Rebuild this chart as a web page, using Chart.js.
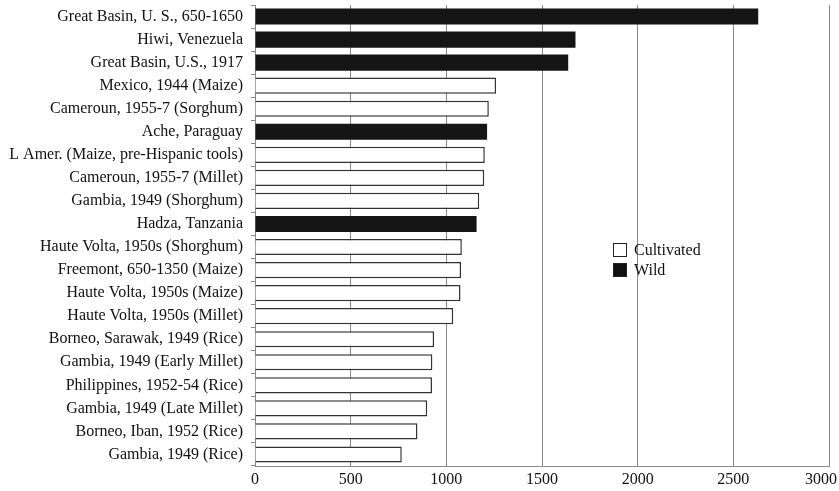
<!DOCTYPE html>
<html>
<head>
<meta charset="utf-8">
<script src="https://cdn.jsdelivr.net/npm/chart.js@4/dist/chart.umd.min.js"></script>
<style>
    html, body { margin: 0; padding: 0; background: #fff; }
    #wrap { position: relative; width: 839px; height: 491px; }
    #legend { position: absolute; left: 613px; top: 240px; font-family: "Liberation Serif", "Times New Roman", serif; font-size: 16px; color: #111; }
    .item { display: flex; align-items: center; height: 20px; }
    .box { width: 12px; height: 12px; border: 1.5px solid #222; margin-right: 7px; }
</style>
</head>
<body>
<div id="wrap">
    <canvas id="chart" width="839" height="491"></canvas>
    <div id="legend">
        <div class="item"><span class="box" style="background:#fff"></span>Cultivated</div>
        <div class="item"><span class="box" style="background:#111"></span>Wild</div>
    </div>
</div>
<script>
// Data
const labels = [
    'Great Basin, U. S., 650-1650',
    'Hiwi, Venezuela',
    'Great Basin, U.S., 1917',
    'Mexico, 1944 (Maize)',
    'Cameroun, 1955-7 (Sorghum)',
    'Ache, Paraguay',
    'L Amer. (Maize, pre-Hispanic tools)',
    'Cameroun, 1955-7 (Millet)',
    'Gambia, 1949 (Shorghum)',
    'Hadza, Tanzania',
    'Haute Volta, 1950s (Shorghum)',
    'Freemont, 650-1350 (Maize)',
    'Haute Volta, 1950s (Maize)',
    'Haute Volta, 1950s (Millet)',
    'Borneo, Sarawak, 1949 (Rice)',
    'Gambia, 1949 (Early Millet)',
    'Philippines, 1952-54 (Rice)',
    'Gambia, 1949 (Late Millet)',
    'Borneo, Iban, 1952 (Rice)',
    'Gambia, 1949 (Rice)'
];
const values = [2630, 1675, 1637, 1260, 1222, 1213, 1201, 1198, 1172, 1158,
    1081, 1077, 1074, 1036, 936, 927, 925, 900, 849, 767];
const kinds = ['W', 'W', 'W', 'C', 'C', 'W', 'C', 'C', 'C', 'W',
    'C', 'C', 'C', 'C', 'C', 'C', 'C', 'C', 'C', 'C'];
const xTicks = [0, 500, 1000, 1500, 2000, 2500, 3000];

const cultivated = values.map((v, i) => kinds[i] === 'C' ? v : null);
const wild = values.map((v, i) => kinds[i] === 'W' ? v : null);

const font = { family: '"Liberation Serif", "Times New Roman", serif', size: 16 };

// keep the last x label inside the canvas, the way the original does
const lastLabelFit = {
    id: 'lastLabelFit',
    beforeDraw(chart) {
        const items = chart.scales.x.getLabelItems(chart.chartArea);
        const last = items[items.length - 1];
        if (last) {
            last.options.textAlign = 'right';
            last.options.translation[0] = chart.chartArea.right + 8;
        }
    }
};

new Chart(document.getElementById('chart'), {
    type: 'bar',
    data: {
        labels: labels,
        datasets: [
            {
                label: 'Cultivated',
                data: cultivated,
                backgroundColor: '#fff',
                borderColor: '#333',
                borderWidth: 1.5,
                grouped: false,
                barPercentage: 0.7,
                categoryPercentage: 1
            },
            {
                label: 'Wild',
                data: wild,
                backgroundColor: '#151515',
                borderColor: '#151515',
                borderWidth: 0,
                grouped: false,
                barPercentage: 0.7,
                categoryPercentage: 1
            }
        ]
    },
    options: {
        indexAxis: 'y',
        responsive: false,
        animation: false,
        layout: { padding: { top: 5, right: 10, left: 0, bottom: 0 } },
        plugins: {
            legend: { display: false },
            tooltip: { enabled: false }
        },
        scales: {
            x: {
                min: 0,
                max: 3000,
                afterBuildTicks: (scale) => { scale.ticks = xTicks.map(v => ({ value: v })); },
                afterFit: (scale) => {
                    scale.height = 25;
                    scale.paddingLeft = 0;
                    scale.paddingRight = 0;
                },
                grid: { color: '#888', lineWidth: 1, drawTicks: false },
                border: { color: '#888', width: 1 },
                ticks: {
                    color: '#111', font: font, padding: 4, maxRotation: 0,
                    callback: (v) => String(v)
                }
            },
            y: {
                afterFit: (scale) => {
                    scale.width = 255;
                    scale.paddingTop = 0;
                    scale.paddingBottom = 0;
                },
                grid: { drawOnChartArea: false, drawTicks: true, tickLength: 4, color: '#888', offset: true },
                border: { color: '#888', width: 1 },
                ticks: { color: '#111', font: font, padding: 8, autoSkip: false }
            }
        }
    },
    plugins: [lastLabelFit]
});
</script>
</body>
</html>
